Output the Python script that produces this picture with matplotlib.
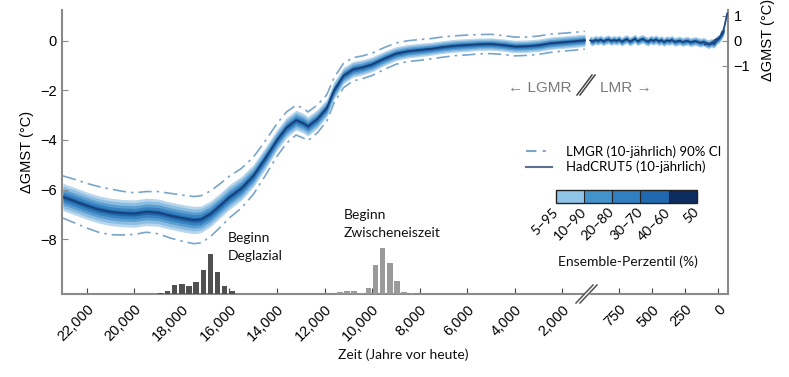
import numpy as np
import matplotlib
matplotlib.use('Agg')
import matplotlib.pyplot as plt
from matplotlib.colors import ListedColormap, BoundaryNorm
from matplotlib.cm import ScalarMappable
from matplotlib.lines import Line2D
from matplotlib.patches import Polygon

plt.rcParams['font.family'] = ['Liberation Sans', 'DejaVu Sans']

# LGMR reconstruction (years before present, median and spreads in degC)
lgmr_years = [23000, 22500, 22000, 21500, 21000, 20500, 20000, 19500, 19000, 18500,
              18000, 17500, 17200, 16800, 16400, 16000, 15500, 15000, 14500, 14000,
              13600, 13200, 12900, 12700, 12300, 11900, 11600, 11200, 10800, 10400,
              10000, 9500, 9000, 8500, 8000, 7500, 7000, 6500, 6000, 5500,
              5000, 4500, 4000, 3500, 3000, 2500, 2000, 1500, 1050]
lgmr_median = [-6.30, -6.47, -6.65, -6.80, -6.90, -6.95, -6.97, -6.90, -6.93, -7.05,
               -7.15, -7.23, -7.20, -6.98, -6.65, -6.30, -5.95, -5.45, -4.75, -4.00,
               -3.50, -3.20, -3.32, -3.45, -3.15, -2.70, -2.00, -1.40, -1.15, -1.07,
               -0.95, -0.72, -0.52, -0.42, -0.37, -0.32, -0.25, -0.20, -0.17, -0.14,
               -0.13, -0.17, -0.23, -0.22, -0.18, -0.10, -0.06, -0.02, 0.02]
lgmr_spread = [0.55, 0.55, 0.55, 0.55, 0.55, 0.55, 0.55, 0.55, 0.55, 0.55,
               0.55, 0.55, 0.54, 0.52, 0.50, 0.50, 0.48, 0.45, 0.44, 0.42,
               0.41, 0.40, 0.40, 0.39, 0.38, 0.36, 0.35, 0.33, 0.32, 0.31,
               0.30, 0.29, 0.28, 0.27, 0.27, 0.26, 0.26, 0.26, 0.26, 0.25,
               0.25, 0.25, 0.25, 0.25, 0.25, 0.25, 0.25, 0.25, 0.25]
lgmr_ci = [0.85, 0.88, 0.90, 0.92, 0.92, 0.88, 0.84, 0.82, 0.85, 0.90,
           0.93, 0.95, 0.95, 0.92, 0.88, 0.84, 0.80, 0.75, 0.70, 0.66,
           0.63, 0.60, 0.60, 0.58, 0.56, 0.53, 0.51, 0.49, 0.47, 0.46,
           0.45, 0.44, 0.43, 0.42, 0.42, 0.41, 0.41, 0.40, 0.40, 0.39,
           0.39, 0.38, 0.38, 0.37, 0.37, 0.37, 0.36, 0.36, 0.36]

# LMR reconstruction (last millennium, 20-year steps)
lmr_years = [970, 950, 930, 910, 890, 870, 850, 830, 810, 790, 770, 750, 730, 710,
             690, 670, 650, 630, 610, 590, 570, 550, 530, 510, 490, 470, 450, 430,
             410, 390, 370, 350, 330, 310, 290, 270, 250, 230, 210, 190, 170, 150,
             130, 110, 90, 70, 50, 30, 10, -10, -30, -45]
lmr_median = [0.02, -0.03, 0.04, 0.00, 0.05, -0.02, 0.03, 0.06, -0.01, 0.04, 0.00, 0.05, -0.04, 0.03,
              0.07, -0.03, 0.02, 0.09, -0.02, 0.04, 0.08, 0.01, -0.03, 0.05, 0.00, 0.06, -0.02, 0.03,
              -0.05, 0.02, -0.01, 0.04, -0.04, -0.02, 0.01, -0.05, -0.02, 0.00, -0.06, -0.03, -0.01,
              -0.05, -0.08, -0.04, -0.10, -0.14, -0.08, -0.12, 0.02, 0.10, 0.25, 0.40]
lmr_spread = 0.18

# HadCRUT5 (10-yearly)
had_years = [100, 80, 60, 40, 20, 0, -20, -30, -40, -50, -60, -70]
had_temp = [-0.15, -0.10, -0.15, -0.05, 0.05, 0.10, 0.20, 0.35, 0.40, 0.60, 0.85, 1.10]

# timing histograms
deg_years = [18900, 18600, 18300, 18000, 17700, 17400, 17100, 16800, 16500, 16200, 15900]
deg_counts = [1, 3, 9, 10, 8, 12, 24, 40, 22, 8, 3]
hol_years = [11350, 11050, 10750, 10450, 10150, 9850, 9550, 9250, 8950, 8650, 8350]
hol_counts = [2, 3, 3, 1, 6, 29, 46, 31, 13, 2, 1]

xtick_vals = [22000, 20000, 18000, 16000, 14000, 12000, 10000, 8000, 6000, 4000, 2000,
              750, 500, 250, 0]
xtick_labels = ['22,000', '20,000', '18,000', '16,000', '14,000', '12,000', '10,000',
                '8,000', '6,000', '4,000', '2,000', '750', '500', '250', '0']
pct_labels = ['5–95', '10–90', '20–80', '30–70', '40–60', '50']

band_fracs = [1.0, 0.8, 0.58, 0.38, 0.18]
band_colors = ['#b8d6ec', '#8bbde2', '#5a9dd0', '#3782c1', '#2064a8']
cb_colors = ['#90c5e8', '#4292cc', '#2f7fc1', '#2069b0', '#0d2c5f']
median_color = '#173f78'
ci_color = '#7aa5cb'
gray = '#8a8a8a'

BREAK = 1000.0
K = 5.55


# piecewise time axis: last millennium stretched by K
def fwd(t):
    t = np.asarray(t, dtype=float)
    return np.where(t >= BREAK, t, BREAK - (BREAK - t) * K)


def inv(u):
    u = np.asarray(u, dtype=float)
    return np.where(u >= BREAK, u, BREAK - (BREAK - u) / K)


W, H = 789, 377


def fp(x, y):
    return x / W, 1 - y / H


fig = plt.figure(figsize=(W / 100, H / 100), dpi=100)
ax = fig.add_axes([62 / W, 1 - 294 / H, (728 - 62) / W, (294 - 10) / H])
ax.set_xscale('function', functions=(fwd, inv))
ax.set_xlim(23042, -76)
ax.set_ylim(-10.21, 1.24)

ly = np.array(lgmr_years, dtype=float)
lm = np.array(lgmr_median)
ls_ = np.array(lgmr_spread)
lc = np.array(lgmr_ci)
for frac, col in zip(band_fracs, band_colors):
    ax.fill_between(ly, lm - ls_ * frac, lm + ls_ * frac, color=col, lw=0)
ax.plot(ly, lm, color=median_color, lw=1.3)
ax.plot(ly, lm + lc, color=ci_color, lw=1.2, ls=(0, (8, 3, 1.5, 3)))
ax.plot(ly, lm - lc, color=ci_color, lw=1.2, ls=(0, (8, 3, 1.5, 3)))

ry = np.array(lmr_years, dtype=float)
rm = np.array(lmr_median)
for frac, col in zip(band_fracs, band_colors):
    ax.fill_between(ry, rm - lmr_spread * frac, rm + lmr_spread * frac, color=col, lw=0)
ax.plot(ry, rm, color=median_color, lw=1.1)
ax.plot(had_years, had_temp, color='#1f4a86', lw=1.3)

for s in ['top', 'right']:
    ax.spines[s].set_visible(False)
for s in ['left', 'bottom']:
    ax.spines[s].set_color(gray)
    ax.spines[s].set_linewidth(1.5)

ax.set_yticks([-8, -6, -4, -2, 0])
ax.tick_params(axis='y', direction='in', length=4, color=gray, labelsize=10.5, pad=4)
ax.set_xticks(xtick_vals)
ax.set_xticklabels(xtick_labels)
ax.tick_params(axis='x', direction='in', length=4, color='#444444', labelsize=10.5, pad=6)
for lab in ax.get_xticklabels():
    lab.set_rotation(45)
    lab.set_ha('right')
    lab.set_va('top')
    lab.set_rotation_mode('anchor')
ax.minorticks_off()

sec = ax.secondary_yaxis('right', functions=(lambda y: y, lambda y: y))
sec.set_yticks([-1, 0, 1])
sec.tick_params(direction='in', length=4, color=gray, labelsize=10.5, pad=4)
sec.spines['right'].set_color(gray)
sec.spines['right'].set_linewidth(1.5)

# timing histograms on hidden twin axes
axh = ax.twinx()
axh.set_ylim(0, 284)
axh.bar(deg_years, deg_counts, width=230, color='#505050', lw=0)
axh.bar(hol_years, hol_counts, width=230, color='#9a9a9a', lw=0)
axh.set_xlim(23042, -76)
axh.axis('off')

ax.set_ylabel('ΔGMST (°C)', fontsize=10.5, labelpad=4)
fig.text(*fp(768, 40), 'ΔGMST (°C)', rotation=90, ha='center', va='center', fontsize=10.5)

txt = dict(family=['Lato', 'DejaVu Sans'], fontsize=10, color='#111111')
fig.text(*fp(228, 232), 'Beginn\nDeglazial', ha='left', va='top', linespacing=1.55, **txt)
fig.text(*fp(344, 209), 'Beginn\nZwischeneiszeit', ha='left', va='top', linespacing=1.55, **txt)
fig.text(*fp(403, 355), 'Zeit (Jahre vor heute)', ha='center', va='center', **txt)
fig.text(*fp(628, 262), 'Ensemble-Perzentil (%)', ha='center', va='center', **txt)

fig.text(*fp(571, 88), '← LGMR', ha='right', va='center', color='#7a7a7a', fontsize=11)
fig.text(*fp(600, 88), 'LMR →', ha='left', va='center', color='#7a7a7a', fontsize=11)
for dx in (0, 3):
    x0, y0 = fp(577 + dx, 95)
    x1, y1 = fp(592 + dx, 75)
    fig.add_artist(Line2D([x0, x1], [y0, y1], color='#444444', lw=1.1, transform=fig.transFigure))

# axis break on x axis
poly = [fp(578, 303), fp(594, 285), fp(597, 285), fp(581, 303)]
fig.add_artist(Polygon(poly, closed=True, color='white', transform=fig.transFigure, zorder=5))
for dx in (0, 4):
    x0, y0 = fp(576 + dx, 303)
    x1, y1 = fp(593 + dx, 285)
    fig.add_artist(Line2D([x0, x1], [y0, y1], color='#555555', lw=1.1,
                          transform=fig.transFigure, zorder=6))

handles = [Line2D([], [], color=ci_color, lw=1.5, ls=(0, (5, 3, 1.5, 3))),
           Line2D([], [], color='#5d6f8c', lw=1.5)]
fig.legend(handles, ['LMGR (10-jährlich) 90% CI', 'HadCRUT5 (10-jährlich)'],
           loc='upper left', bbox_to_anchor=fp(526, 145), frameon=False,
           prop={'family': ['Lato', 'DejaVu Sans'], 'size': 9.5},
           handlelength=2.0, handletextpad=1.0, labelspacing=0.25,
           borderpad=0, borderaxespad=0)

cax = fig.add_axes([556 / W, 1 - 203.3 / H, 140.7 / W, 13.3 / H])
cmap = ListedColormap(cb_colors)
norm = BoundaryNorm(range(6), 5)
cb = fig.colorbar(ScalarMappable(norm=norm, cmap=cmap), cax=cax, orientation='horizontal',
                  ticks=range(6), drawedges=True)
cb.set_ticklabels(pct_labels)
cb.outline.set_linewidth(1.0)
cb.outline.set_edgecolor('#222222')
cb.dividers.set_color('#222222')
cb.dividers.set_linewidth(0.8)
cax.tick_params(length=0, pad=5)
for lab in cax.get_xticklabels():
    lab.set_rotation(45)
    lab.set_ha('right')
    lab.set_va('center')
    lab.set_rotation_mode('anchor')
    lab.set_family(['Lato', 'DejaVu Sans'])
    lab.set_fontsize(10)

fig.savefig('out.png', dpi=100, facecolor='white')
